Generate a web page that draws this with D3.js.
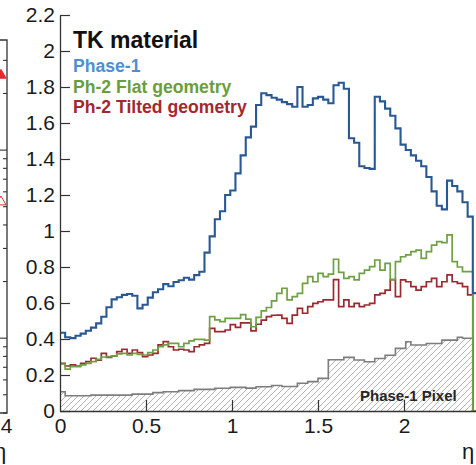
<!DOCTYPE html>
<html>
<head>
<meta charset="utf-8">
<script src="https://cdn.jsdelivr.net/npm/d3@7"></script>
<style>
  html, body { margin: 0; padding: 0; background: #fff; overflow: hidden; }
  text { font-family: "Liberation Sans", Arial, sans-serif; }
</style>
</head>
<body>
<svg id="chart" width="476" height="465"></svg>
<script>
// Material budget (radiation lengths) versus pseudorapidity, histogram bins of 0.03 in eta
const binWidth = 0.03;

const phase1 = [
  0.435, 0.41, 0.405, 0.418, 0.43, 0.446, 0.463, 0.487, 0.524, 0.576,
  0.62, 0.632, 0.645, 0.65, 0.64, 0.57, 0.59, 0.63, 0.66, 0.676,
  0.705, 0.693, 0.717, 0.726, 0.74, 0.73, 0.755, 0.774, 0.88, 0.97,
  1.065, 1.11, 1.20, 1.225, 1.32, 1.42, 1.52, 1.58, 1.70, 1.765,
  1.755, 1.74, 1.73, 1.716, 1.705, 1.69, 1.80, 1.69, 1.70, 1.737,
  1.745, 1.73, 1.71, 1.81, 1.824, 1.79, 1.515, 1.49, 1.36, 1.35,
  1.345, 1.746, 1.72, 1.68, 1.64, 1.57, 1.48, 1.45, 1.42, 1.39,
  1.36, 1.30, 1.22, 1.14, 1.12, 1.28, 1.25, 1.22, 1.16, 1.08,
  0.655
];

const flatGeometry = [
  0.261, 0.233, 0.246, 0.246, 0.256, 0.265, 0.274, 0.287, 0.30, 0.302,
  0.306, 0.317, 0.32, 0.311, 0.32, 0.315, 0.311, 0.324, 0.339, 0.357,
  0.367, 0.376, 0.376, 0.357, 0.376, 0.39, 0.398, 0.398, 0.394, 0.524,
  0.506, 0.496, 0.515, 0.515, 0.515, 0.535, 0.51, 0.468, 0.52, 0.556,
  0.575, 0.612, 0.654, 0.682, 0.617, 0.635, 0.654, 0.709, 0.746, 0.718,
  0.765, 0.746, 0.76, 0.843, 0.77, 0.737, 0.746, 0.728, 0.765, 0.783,
  0.802, 0.839, 0.783, 0.82, 0.73, 0.83, 0.857, 0.867, 0.885, 0.894,
  0.848, 0.885, 0.922, 0.941, 0.935, 0.978, 0.83, 0.80, 0.774, 0.774,
  0
];

const tiltedGeometry = [
  0.265, 0.25, 0.256, 0.25, 0.265, 0.274, 0.293, 0.283, 0.32, 0.298,
  0.306, 0.33, 0.343, 0.32, 0.339, 0.324, 0.302, 0.311, 0.32, 0.367,
  0.385, 0.357, 0.339, 0.343, 0.339, 0.33, 0.357, 0.367, 0.376, 0.459,
  0.441, 0.441, 0.45, 0.48, 0.465, 0.49, 0.49, 0.445, 0.482, 0.505,
  0.524, 0.532, 0.533, 0.515, 0.487, 0.533, 0.57, 0.543, 0.58, 0.598,
  0.607, 0.617, 0.617, 0.73, 0.58, 0.617, 0.58, 0.598, 0.58, 0.589,
  0.598, 0.645, 0.654, 0.672, 0.73, 0.635, 0.728, 0.718, 0.691, 0.672,
  0.691, 0.718, 0.737, 0.691, 0.718, 0.756, 0.718, 0.709, 0.691, 0.645,
  0
];

const phase1Pixel = [
  0.107, 0.085, 0.085, 0.085, 0.085, 0.085, 0.088, 0.088, 0.088, 0.088,
  0.088, 0.088, 0.088, 0.088, 0.094, 0.094, 0.094, 0.094, 0.102, 0.102,
  0.107, 0.107, 0.107, 0.113, 0.113, 0.113, 0.12, 0.12, 0.12, 0.12,
  0.126, 0.126, 0.126, 0.131, 0.131, 0.131, 0.127, 0.127, 0.135, 0.135,
  0.135, 0.142, 0.142, 0.136, 0.136, 0.136, 0.154, 0.154, 0.163, 0.163,
  0.181, 0.181, 0.285, 0.285, 0.285, 0.298, 0.298, 0.283, 0.283, 0.274,
  0.274, 0.292, 0.292, 0.31, 0.31, 0.348, 0.348, 0.385, 0.367, 0.367,
  0.367, 0.375, 0.375, 0.375, 0.394, 0.394, 0.394, 0.41, 0.404, 0.404
];

const xTicks = [0, 0.5, 1, 1.5, 2];
const yTicks = [0, 0.2, 0.4, 0.6, 0.8, 1, 1.2, 1.4, 1.6, 1.8, 2, 2.2];

const legendTitle = "TK material";
const legendLabels = ["Phase-1", "Ph-2 Flat geometry", "Ph-2 Tilted geometry"];
const legendColors = ["#4c8fd2", "#6c9d3c", "#a3282d"];
const pixelLabel = "Phase-1 Pixel";
const axisTitle = "η";

// Edge of the neighbouring panel on the left (log-scale axis, eta up to 4)
const neighbourEta = [3.93, 3.93];
const neighbourValues = [25, 5.3];
const neighbourFilled = [true, false];
const neighbourTickLabel = "4";

const svg = d3.select("#chart");
const W = 476, H = 465;

const x = d3.scaleLinear().domain([0, 2.42]).range([60, 60 + 2.42 * 172]);
const y = d3.scaleLinear().domain([0, 2.2]).range([411, 15]);

// ---- hatch pattern for the pixel contribution
const defs = svg.append("defs");
const pat = defs.append("pattern")
  .attr("id", "hatch").attr("patternUnits", "userSpaceOnUse")
  .attr("width", 6).attr("height", 6);
pat.append("rect").attr("width", 6).attr("height", 6).attr("fill", "#fff");
pat.append("path")
  .attr("d", "M-1,1 L1,-1 M0,6 L6,0 M5,7 L7,5")
  .attr("stroke", "#b4b4b4").attr("stroke-width", 1);

defs.append("clipPath").attr("id", "plotClip")
  .append("rect").attr("x", 60).attr("y", 0).attr("width", W - 60).attr("height", 413);

// step points: each bin value starts at its lower edge, closing point at the last upper edge
function stepPoints(values) {
  const pts = values.map((v, i) => [i * binWidth, v]);
  pts.push([values.length * binWidth, values[values.length - 1]]);
  return pts;
}

const stepLine = d3.line()
  .x(d => x(d[0])).y(d => y(d[1]))
  .curve(d3.curveStepAfter);

const stepArea = d3.area()
  .x(d => x(d[0])).y0(y(0)).y1(d => y(d[1]))
  .curve(d3.curveStepAfter);

const plot = svg.append("g").attr("clip-path", "url(#plotClip)");

// pixel contribution: hatched area with grey outline
const pixPts = stepPoints(phase1Pixel);
plot.append("path").attr("d", stepArea(pixPts)).attr("fill", "url(#hatch)");
plot.append("path")
  .attr("d", stepLine(pixPts.concat([[phase1Pixel.length * binWidth, 0]])))
  .attr("fill", "none").attr("stroke", "#7d7d7d").attr("stroke-width", 1.6);

svg.append("text")
  .attr("x", 360).attr("y", 401)
  .attr("font-size", 15).attr("font-weight", "bold").attr("fill", "#262626")
  .text(pixelLabel);

// geometries
plot.append("path").attr("d", stepLine(stepPoints(tiltedGeometry)))
  .attr("fill", "none").attr("stroke", "#9b2a30").attr("stroke-width", 1.7);
plot.append("path").attr("d", stepLine(stepPoints(flatGeometry)))
  .attr("fill", "none").attr("stroke", "#6fa043").attr("stroke-width", 1.7);
plot.append("path").attr("d", stepLine(stepPoints(phase1)))
  .attr("fill", "none").attr("stroke", "#2a5893").attr("stroke-width", 2.1);

// ---- axes, ticks drawn on the inside
const axisColor = "#333";
const yAxis = svg.append("g").attr("transform", "translate(60,0)")
  .call(d3.axisLeft(y).tickValues(yTicks).tickFormat(d3.format("~g"))
    .tickSize(-10).tickSizeOuter(0).tickPadding(5));
const xAxis = svg.append("g").attr("transform", `translate(0,${y(0)})`)
  .call(d3.axisBottom(x).tickValues(xTicks).tickFormat(d3.format("~g"))
    .tickSize(-11).tickSizeOuter(0).tickPadding(7));
[yAxis, xAxis].forEach(g => {
  g.select(".domain").attr("stroke", axisColor).attr("stroke-width", 1.3);
  g.selectAll(".tick line").attr("stroke", axisColor).attr("stroke-width", 1.2);
  g.selectAll(".tick text").attr("font-size", 21).attr("fill", "#1a1a1a")
    .attr("font-family", "'Liberation Sans', Arial, sans-serif");
});
xAxis.select(".domain").attr("d", `M60,0.5H${W}`);
// the x tick at eta = 0 coincides with the y axis
xAxis.selectAll(".tick").filter(d => d === 0).select("line").remove();

svg.append("text")
  .attr("x", 468).attr("y", 459).attr("text-anchor", "middle")
  .attr("font-size", 22).attr("fill", "#1a1a1a")
  .text(axisTitle);

// ---- legend
svg.append("text")
  .attr("x", 73).attr("y", 48)
  .attr("font-size", 23).attr("font-weight", "bold").attr("fill", "#111")
  .text(legendTitle);
svg.selectAll("text.leg").data(legendLabels).join("text")
  .attr("class", "leg")
  .attr("x", 73).attr("y", (d, i) => 72 + i * 20.5)
  .attr("font-size", 17.6).attr("font-weight", "bold")
  .attr("fill", (d, i) => legendColors[i])
  .text(d => d);

// ---- edge of the neighbouring panel
const nx = d3.scaleLinear().domain([0, 4]).range([7 - 4 * 86, 7]);
const ny = d3.scaleLog().domain([0.4, 38.5]).range([413, 40]);
const left = svg.append("g");
left.append("path")
  .attr("d", `M0,${ny.range()[1]}H${nx(4)}V${ny.range()[0]}H0`)
  .attr("fill", "none").attr("stroke", axisColor).attr("stroke-width", 1.3);
left.selectAll("line.nt").data(ny.ticks()).join("line")
  .attr("class", "nt")
  .attr("x1", nx(4)).attr("x2", d => nx(4) - ([1, 10].includes(d) ? 8 : 4))
  .attr("y1", d => ny(d)).attr("y2", d => ny(d))
  .attr("stroke", axisColor).attr("stroke-width", 1.1);
left.selectAll("path.nm").data(neighbourValues).join("path")
  .attr("class", "nm")
  .attr("transform", (d, i) => `translate(${nx(neighbourEta[i])},${ny(d)})`)
  .attr("d", d3.symbol(d3.symbolTriangle).size(45)())
  .attr("fill", (d, i) => neighbourFilled[i] ? "#e5282e" : "none")
  .attr("stroke", "#e5282e").attr("stroke-width", 1);
left.append("text")
  .attr("x", nx(4) - 0.5).attr("y", 433).attr("text-anchor", "middle")
  .attr("font-size", 21).attr("fill", "#1a1a1a").text(neighbourTickLabel);
left.append("text")
  .attr("x", 0).attr("y", 459).attr("text-anchor", "middle")
  .attr("font-size", 22).attr("fill", "#1a1a1a").text(axisTitle);
</script>
</body>
</html>
